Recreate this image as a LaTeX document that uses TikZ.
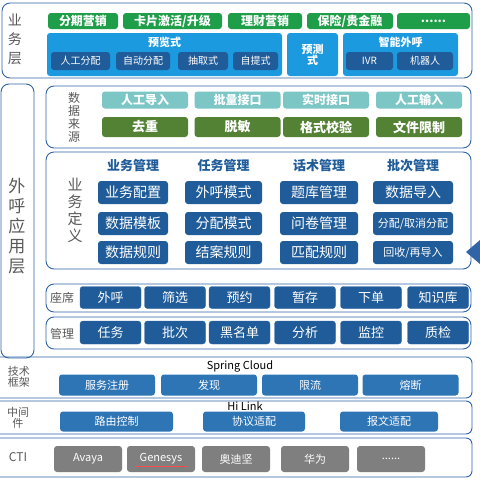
\documentclass[tikz,border=0pt]{standalone}
\usepackage{fontspec}
\setmainfont{Noto Sans CJK SC}
\usetikzlibrary{positioning}
\definecolor{frame}{HTML}{2F64A6}
\definecolor{bizgreen}{HTML}{1E9E48}
\definecolor{skyblue}{HTML}{1B9AE0}
\definecolor{deepblue}{HTML}{1F5C99}
\definecolor{teal}{HTML}{7CC6C6}
\definecolor{moss}{HTML}{548235}
\definecolor{techblue}{HTML}{2E75B6}
\definecolor{ctigray}{HTML}{7F7F7F}
\definecolor{labelgray}{HTML}{595959}
\newcommand{\fs}[1]{\fontsize{#1}{#1}\selectfont}
\newcommand{\moredots}{......}

\tikzset{
  layer/.style={draw=frame,line width=0.9pt,rounded corners=8pt},
  blk/.style={rounded corners=3pt,text=white,inner sep=0pt,anchor=center},
  vlabel/.style={text=labelgray,align=center,inner sep=0pt},
}

\begin{document}
\begin{tikzpicture}[x=1pt,y=-1pt]
  \useasboundingbox (0,0) rectangle (480,480);
  \fill[white] (0,0) rectangle (480,480);

  % business layer
  \draw[layer] (2,3) rectangle (472,78);
  \node[vlabel,font=\fs{14}] (biz) at (15,39) {业\\[5pt]务\\[5pt]层};
  \foreach \c/\w/\t [count=\i] in {83/70/分期营销, 172.5/99/{卡片激活/升级}, 265/74/理财营销, 350/86/{保险/贵金融}, 433.5/73/\moredots}
    \node[blk,fill=bizgreen,font=\fs{12}\bfseries,minimum width=\w,minimum height=16] (g\i) at (\c,21) {\t};
  \node[blk,fill=skyblue,minimum width=235,minimum height=43] (preview) at (164.5,54.5) {};
  \node[text=white,font=\fs{11}\bfseries,inner sep=0pt] (previewt) at (164.5,42) {预览式};
  \foreach \c/\w/\t [count=\i] in {80.5/59/人工分配, 143/54/自动分配, 203/50/抽取式, 255.5/45/自提式}
    \node[blk,fill=deepblue,font=\fs{10},minimum width=\w,minimum height=18] (p\i) at (\c,61) {\t};
  \node[blk,fill=skyblue,font=\fs{11}\bfseries,align=center,minimum width=51,minimum height=43] (predict) at (312.5,54.5) {预测\\式};
  \node[blk,fill=skyblue,minimum width=115,minimum height=43] (smart) at (400.5,54.5) {};
  \node[text=white,font=\fs{11}\bfseries,inner sep=0pt] (smartt) at (400.5,42) {智能外呼};
  \foreach \c/\w/\t [count=\i] in {369.5/47/IVR, 425/56/机器人}
    \node[blk,fill=deepblue,font=\fs{10},minimum width=\w,minimum height=18] (s\i) at (\c,61) {\t};

  % outbound application layer
  \draw[layer] (1,84) rectangle (34,358);
  \node[vlabel,font=\fs{17}] (app) at (17,226) {外\\[3pt]呼\\[3pt]应\\[3pt]用\\[3pt]层};

  % data source
  \draw[layer] (46,86) rectangle (471,148);
  \node[vlabel,font=\fs{12}] (src) at (74,117) {数\\[1pt]据\\[1pt]来\\[1pt]源};
  \foreach \c/\t/\u [count=\i] in {145/人工导入/去重, 237.5/批量接口/脱敏, 326/实时接口/格式校验, 419/人工输入/文件限制}{
    \node[blk,fill=teal,font=\fs{12}\bfseries,minimum width=86,minimum height=17] (in\i) at (\c,100) {\t};
    \node[blk,fill=moss,font=\fs{13}\bfseries,minimum width=86,minimum height=20] (ck\i) at (\c,127) {\u};
  }

  % business definition
  \draw[layer] (46,152) rectangle (471,269);
  \node[vlabel,font=\fs{15}] (def) at (75,210) {业\\[2pt]务\\[2pt]定\\[2pt]义};
  \foreach \c/\w/\h/\a/\b/\d [count=\i] in {
      133/70/业务管理/业务配置/数据模板/数据规则,
      223.5/77/任务管理/外呼模式/分配模式/结案规则,
      319/78/话术管理/题库管理/问卷管理/匹配规则,
      413/80/批次管理/数据导入/{\fs{11}分配/取消分配}/{\fs{11}回收/再导入}}{
    \node[text=deepblue,font=\fs{13}\bfseries,inner sep=0pt] (h\i) at (\c,166) {\h};
    \node[blk,fill=deepblue,font=\fs{14},minimum width=\w,minimum height=23] (r\i) at (\c,192.5) {\a};
    \node[blk,fill=deepblue,font=\fs{14},minimum width=\w,minimum height=23] (m\i) at (\c,223.5) {\b};
    \node[blk,fill=deepblue,font=\fs{14},minimum width=\w,minimum height=23] (e\i) at (\c,252.5) {\d};
  }
  \fill[frame] (466,252) -- (480,240) -- (480,264) -- cycle;

  % seats and management
  \draw[layer] (46,284) rectangle (471,312);
  \node[text=labelgray,font=\fs{12},inner sep=0pt] (seat) at (62,298) {座席};
  \foreach \c/\t [count=\i] in {110.5/外呼, 175/筛选, 239.5/预约, 305/暂存, 371/下单, 438/知识库}
    \node[blk,draw=frame,fill=deepblue,font=\fs{13},minimum width=61,minimum height=22] (st\i) at (\c,297.5) {\t};
  \draw[layer] (46,317) rectangle (471,349);
  \node[text=labelgray,font=\fs{12},inner sep=0pt] (mgmt) at (62,334) {管理};
  \foreach \c/\t [count=\i] in {110.5/任务, 175/批次, 239.5/黑名单, 305/分析, 371/监控, 438/质检}
    \node[blk,draw=frame,fill=deepblue,font=\fs{13},minimum width=61,minimum height=23] (mg\i) at (\c,332.5) {\t};

  % technical framework
  \draw[layer,rounded corners=6pt] (-6,357) rectangle (472,398);
  \node[vlabel,font=\fs{11}] (tech) at (19,377) {技术\\框架};
  \node[font=\fs{11},inner sep=0pt] (spring) at (240,366) {Spring Cloud};
  \foreach \c/\t [count=\i] in {107/服务注册, 209/发现, 310/限流, 410.5/熔断}
    \node[blk,fill=techblue,font=\fs{11},minimum width=96,minimum height=21] (tk\i) at (\c,385) {\t};

  % middleware
  \draw[layer,rounded corners=6pt] (-6,401) rectangle (472,434);
  \node[vlabel,font=\fs{11}] (mid) at (18,418) {中间\\件};
  \node[font=\fs{11},inner sep=0pt] (hilink) at (245,406) {Hi Link};
  \foreach \c/\w/\t [count=\i] in {116.5/113/路由控制, 254/102/协议适配, 389/98/报文适配}
    \node[blk,fill=techblue,font=\fs{11},minimum width=\w,minimum height=20] (mw\i) at (\c,421.5) {\t};

  % CTI
  \draw[layer,rounded corners=6pt] (-6,438) rectangle (472,477);
  \node[text=labelgray,font=\fs{12},inner sep=0pt] (cti) at (18,457) {CTI};
  \foreach \c/\w/\t [count=\i] in {88/68/Avaya, 161/68/Genesys, 236/68/奥迪坚, 315/68/华为, 391/68/\moredots}
    \node[blk,fill=ctigray,font=\fs{11},minimum width=\w,minimum height=26] (ct\i) at (\c,459) {\t};
  \draw[red!70,line width=0.3pt] ([xshift=-26pt,yshift=-7pt]ct2.center) -- ([xshift=26pt,yshift=-7pt]ct2.center);
\end{tikzpicture}
\end{document}
